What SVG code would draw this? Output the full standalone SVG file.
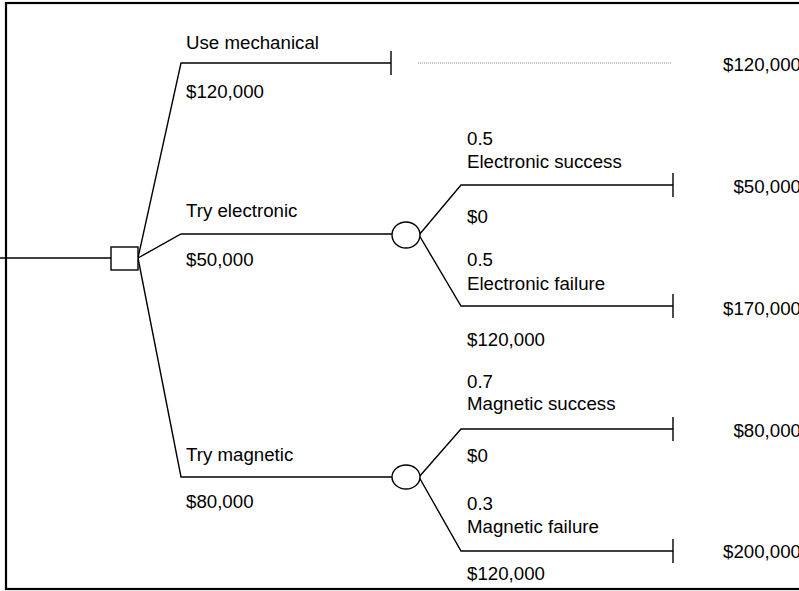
<svg xmlns="http://www.w3.org/2000/svg" width="799" height="591" viewBox="0 0 799 591">
<style>
.ln{fill:none;stroke:#000;stroke-width:1.4}
.nd{fill:#fff;stroke:#000;stroke-width:1.4}
.t{font-family:"Liberation Sans",Arial,sans-serif;font-size:18.7px;fill:#000}
.v{text-anchor:end}
</style>
<rect width="799" height="591" fill="#fff"/>
<rect x="6" y="3" width="900" height="586" fill="none" stroke="#000" stroke-width="2.2"/>
<g id="connectors">
<path class="ln" d="M0 258H111"/>
<path class="ln" d="M138 258L181 63H391M391 51V75"/>
<line x1="418" y1="63" x2="672" y2="63" stroke="#8a8a8a" stroke-width="1" stroke-dasharray="1 1"/>
<path class="ln" d="M138 258L181 234H392"/>
<path class="ln" d="M138 258L181 477H392"/>
<path class="ln" d="M419 235L461 185H673M673 173V197"/>
<path class="ln" d="M419 235L461 306H673M673 294V318"/>
<path class="ln" d="M419 477L461 429H673M673 417V441"/>
<path class="ln" d="M419 477L461 551H673M673 539V563"/>
</g>
<g id="decision"><rect class="nd" x="111" y="247" width="27" height="23"/></g>
<g id="chance-electronic"><ellipse class="nd" cx="406" cy="235" rx="14" ry="13"/></g>
<g id="chance-magnetic"><ellipse class="nd" cx="406" cy="477" rx="14" ry="12"/></g>
<g id="labels">
<text class="t" x="186" y="49">Use mechanical</text>
<text class="t" x="186" y="98">$120,000</text>
<text class="t" x="186" y="217">Try electronic</text>
<text class="t" x="186" y="266">$50,000</text>
<text class="t" x="186" y="461">Try magnetic</text>
<text class="t" x="186" y="508">$80,000</text>
<text class="t" x="467" y="145">0.5</text>
<text class="t" x="467" y="168">Electronic success</text>
<text class="t" x="467" y="223">$0</text>
<text class="t" x="467" y="266">0.5</text>
<text class="t" x="467" y="290">Electronic failure</text>
<text class="t" x="467" y="346">$120,000</text>
<text class="t" x="467" y="388">0.7</text>
<text class="t" x="467" y="410">Magnetic success</text>
<text class="t" x="467" y="462">$0</text>
<text class="t" x="467" y="510">0.3</text>
<text class="t" x="467" y="533">Magnetic failure</text>
<text class="t" x="467" y="580">$120,000</text>
<text class="t v" x="801" y="71">$120,000</text>
<text class="t v" x="801" y="193">$50,000</text>
<text class="t v" x="801" y="315">$170,000</text>
<text class="t v" x="801" y="437">$80,000</text>
<text class="t v" x="801" y="558">$200,000</text>
</g>
</svg>
